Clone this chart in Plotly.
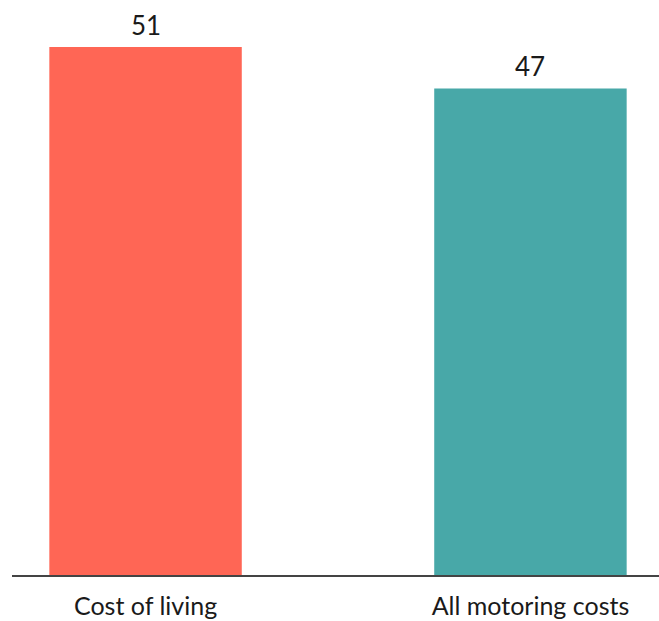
import plotly.graph_objects as go

categories = ["Cost of living", "All motoring costs"]
values = [51, 47]
colors = ["#FF6655", "#48A8A8"]

FONT = "Lato"
TEXT_COLOR = "#1a1a1a"

fig = go.Figure(
    go.Bar(
        x=categories,
        y=values,
        marker=dict(color=colors, line=dict(width=0)),
        width=0.5,
        hoverinfo="x+y",
    )
)

# value labels above each bar
for cat, val in zip(categories, values):
    fig.add_annotation(
        x=cat,
        y=val,
        text=str(val),
        showarrow=False,
        xanchor="center",
        yanchor="bottom",
        yshift=4,
        font=dict(family=FONT, size=26, color=TEXT_COLOR),
    )

fig.update_layout(
    width=659,
    height=621,
    margin=dict(l=12, r=0, t=0, b=46),
    paper_bgcolor="white",
    plot_bgcolor="white",
    showlegend=False,
    font=dict(family=FONT, size=25, color=TEXT_COLOR),
)
fig.update_xaxes(
    range=[-0.347, 1.334],
    automargin=False,
    showline=True,
    linecolor="#444444",
    linewidth=1.5,
    showgrid=False,
    ticks="",
    ticklabelstandoff=8,
    tickfont=dict(family=FONT, size=25, color=TEXT_COLOR),
)
fig.update_yaxes(
    range=[0, 55.54],
    visible=False,
    showgrid=False,
    zeroline=False,
    automargin=False,
)

fig.write_html("out.html")
